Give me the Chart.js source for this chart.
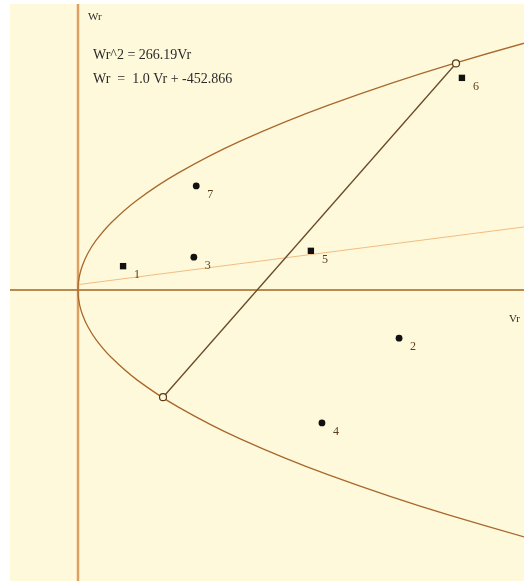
<!DOCTYPE html>
<html lang="en">
<head>
  <meta charset="UTF-8" />
  <title>Wr vs Vr</title>
  <script src="https://cdn.jsdelivr.net/npm/chart.js"></script>
  <style>
    body { margin: 0; background: #fff; }
    .chart-container { width: 524px; height: 581px; position: relative; }
  </style>
</head>
<body>
  <div class="chart-container"><canvas id="chart"></canvas></div>
  <script>
    // Numbered points
    const pointIds = ['1', '2', '3', '4', '5', '6', '7'];
    const pointVr = [114, 812, 293, 617, 589, 971, 299];
    const pointWr = [53, -107, 73, -295, 87, 471, 231];
    const pointShape = ['rect', 'circle', 'circle', 'circle', 'rect', 'rect', 'circle'];

    // Parabola Wr^2 = 266.19 Vr
    const curveWr = [-700, -600, -500, -410, -330, -260, -200, -150, -110, -80, -55, -35, -20, -10, 0,
                     10, 20, 35, 55, 80, 110, 150, 200, 260, 330, 410, 500, 600, 700];
    const curveVr = [1841, 1352, 939, 632, 409, 254, 150, 84.5, 45.5, 24, 11.4, 4.6, 1.5, 0.4, 0,
                     0.4, 1.5, 4.6, 11.4, 24, 45.5, 84.5, 150, 254, 409, 632, 939, 1352, 1841];

    // Chord Wr = 1.0 Vr + -452.866
    const chordVr = [215, 956];
    const chordWr = [-238, 503];

    // Faint line through the origin
    const fitVr = [0, 1128];
    const fitWr = [12, 140];

    const xMin = -172, xMax = 1128;
    const yMin = -646, yMax = 635;

    const bg = '#fff9db';
    const zip = (xs, ys) => xs.map((x, i) => ({ x: x, y: ys[i] }));

    const paper = {
      id: 'paper',
      beforeDraw(chart) {
        const { ctx, chartArea: a } = chart;
        ctx.save();
        ctx.fillStyle = bg;
        ctx.fillRect(a.left, a.top, a.right - a.left, a.bottom - a.top);
        ctx.restore();
      },
      afterDatasetsDraw(chart) {
        const { ctx, scales } = chart;
        const x0 = scales.x.getPixelForValue(0);
        const y0 = scales.y.getPixelForValue(0);
        ctx.save();
        ctx.font = '12px "Liberation Serif", serif';
        ctx.fillStyle = '#5c3d1a';
        ctx.textAlign = 'center';
        ctx.textBaseline = 'middle';
        pointIds.forEach((id, i) => {
          const px = scales.x.getPixelForValue(pointVr[i]);
          const py = scales.y.getPixelForValue(pointWr[i]);
          ctx.fillText(id, px + 14, py + 9);
        });
        ctx.fillStyle = '#2a2a2a';
        ctx.textAlign = 'left';
        ctx.font = '11px "Liberation Serif", serif';
        ctx.fillText('Wr', x0 + 10, 17);
        ctx.fillText('Vr', 509, y0 + 29);
        ctx.font = '14px "Liberation Serif", serif';
        ctx.fillText('Wr^2 = 266.19Vr', x0 + 15, 55);
        ctx.fillText('Wr  =  1.0 Vr + -452.866', x0 + 15, 79);
        ctx.restore();
      }
    };

    new Chart(document.getElementById('chart'), {
      type: 'scatter',
      data: {
        datasets: [
          {
            label: 'points',
            data: zip(pointVr, pointWr),
            pointStyle: pointShape,
            pointRadius: pointShape.map(s => s === 'rect' ? 4.5 : 3.4),
            backgroundColor: '#111',
            borderColor: '#111',
            borderWidth: 0
          },
          {
            label: 'chord ends',
            data: zip(chordVr, chordWr),
            showLine: false,
            pointRadius: 3.5,
            backgroundColor: bg,
            borderColor: '#5a3a18',
            borderWidth: 1.2
          },
          {
            label: 'chord',
            data: zip(chordVr, chordWr),
            showLine: true,
            pointRadius: 0,
            borderColor: '#6a4a28',
            borderWidth: 1.3
          },
          {
            label: 'parabola',
            data: zip(curveVr, curveWr),
            showLine: true,
            tension: 0.4,
            pointRadius: 0,
            borderColor: '#a8682c',
            borderWidth: 1.3
          },
          {
            label: 'fit',
            data: zip(fitVr, fitWr),
            showLine: true,
            pointRadius: 0,
            borderColor: '#f2bc80',
            borderWidth: 1
          },
          {
            label: 'Vr axis',
            data: [{ x: xMin, y: 0 }, { x: xMax, y: 0 }],
            showLine: true,
            pointRadius: 0,
            borderColor: '#b88a50',
            borderWidth: 2
          },
          {
            label: 'Wr axis',
            data: [{ x: 0, y: yMin }, { x: 0, y: yMax }],
            showLine: true,
            pointRadius: 0,
            borderColor: '#dca060',
            borderWidth: 2.5
          }
        ]
      },
      options: {
        responsive: true,
        maintainAspectRatio: false,
        animation: false,
        layout: { autoPadding: false, padding: { left: 10, top: 4, right: 0, bottom: 0 } },
        plugins: { legend: { display: false }, tooltip: { enabled: false } },
        scales: {
          x: { type: 'linear', min: xMin, max: xMax, display: false },
          y: { type: 'linear', min: yMin, max: yMax, display: false }
        }
      },
      plugins: [paper]
    });
  </script>
</body>
</html>
